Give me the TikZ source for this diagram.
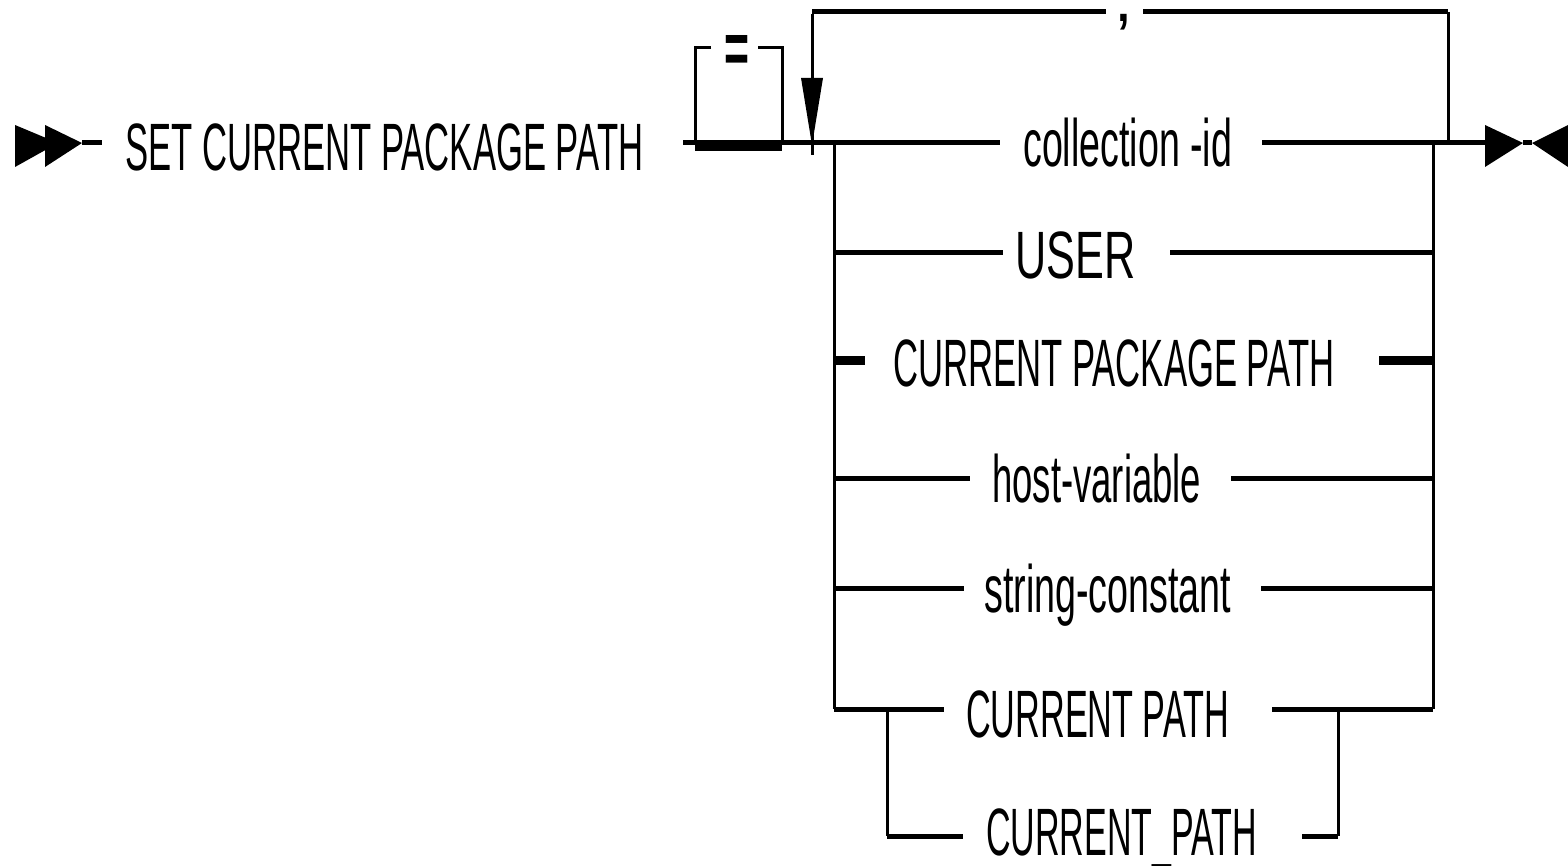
\documentclass[tikz,border=0pt]{standalone}
\usepackage{fontspec}
\setmainfont{Liberation Sans}
\usepackage{graphicx}
\newcommand{\fitw}[2]{\resizebox{#1pt}{\height}{#2}}
\begin{document}
\begin{tikzpicture}[x=1pt,y=-1pt,
  hline/.style={line width=5pt},
  vline/.style={line width=3pt},
  boldline/.style={line width=9pt},
  lbl/.style={inner sep=0pt, anchor=base west, font=\fontsize{67}{70}\selectfont},
  tipfill/.style={fill=black}]
\useasboundingbox[fill=white] (0,0) rectangle (1568,866);

% labels
\node[lbl] (title) at (125,171) {\fitw{518}{SET CURRENT PACKAGE PATH}};
\node[lbl] (cid) at (1023,167) {\fitw{209}{collection -id}};
\node[lbl] (user) at (1015,279) {\fitw{120}{USER}};
\node[lbl] (cpp) at (893,386) {\fitw{441}{CURRENT PACKAGE PATH}};
\node[lbl] (hv) at (992,502) {\fitw{209}{host-variable}};
\node[lbl] (sc) at (984,612) {\fitw{247}{string-constant}};
\node[lbl] (cp) at (966,737) {\fitw{263}{CURRENT PATH}};
\node[lbl] (cpu) at (986,855) {\fitw{271}{CURRENT\_PATH}};
\node[inner sep=0pt, anchor=base, font=\fontsize{67}{70}\selectfont] (comma) at (1124,22) {\smash{,}};
\node[inner sep=0pt, anchor=base] (eq) at (737,74) {\resizebox{25pt}{38pt}{\bfseries\fontsize{67}{70}\selectfont =}};

% coordinates
\coordinate (s0) at (82,143);
\coordinate (s1) at (102,143);
\coordinate (m0) at (683,143);
\coordinate (m1) at (1000,143);
\coordinate (r0) at (1262,143);
\coordinate (e0) at (1485,143);
\coordinate (lt) at (834,143);
\coordinate (rt) at (1433,143);
\coordinate (lb) at (834,709);
\coordinate (rb) at (1433,709);
\coordinate (ilb) at (887,836);
\coordinate (irb) at (1338,836);
\coordinate (ilt) at (887,709);
\coordinate (irt) at (1338,709);
\coordinate (lpA) at (812,155);
\coordinate (lpB) at (812,12);
\coordinate (lpC) at (1448,12);
\coordinate (lpD) at (1448,143);
\coordinate (cmL) at (1106,12);
\coordinate (cmR) at (1143,12);

% start arrows
\fill[tipfill] (15,125) -- (58,143) -- (15,167) -- cycle;
\fill[tipfill] (45,125) -- (82,143) -- (45,167) -- cycle;
\draw[hline] (s0) -- (s1);

% main line
\draw[hline] (m0) -- (m1);
\draw[hline] (r0) -- (e0);

% end arrows
\fill[tipfill] (1485,125) -- (1523,143) -- (1485,167) -- cycle;
\draw[hline] (1523,143) -- (1532,143);
\fill[tipfill] (1568,125) -- (1532,143) -- (1568,167) -- cycle;

% optional = bracket
\draw[vline] (711,48) -- (695,48) -- (695,143);
\draw[vline] (758,48) -- (782,48) -- (782,143);
\draw[line width=8pt] (695,147) -- (782,147);

% repeat loop
\draw[vline] (lpA) -- (812,14);
\draw[hline] (lpB) -- (cmL);
\draw[hline] (cmR) -- (lpC);
\draw[vline] (1448,12) -- (lpD);
\fill[tipfill] (801,78) -- (823,78) -- (812,145) -- cycle;

% rails
\draw[vline] (lt) -- (lb);
\draw[vline] (rt) -- (rb);
\draw[vline] (ilt) -- (ilb);
\draw[vline] (irt) -- (irb);

% rows
\draw[hline] (834,253) -- (1003,253);
\draw[hline] (1170,253) -- (1433,253);
\draw[boldline] (834,360) -- (865,360);
\draw[boldline] (1379,360) -- (1433,360);
\draw[hline] (834,478) -- (970,478);
\draw[hline] (1231,478) -- (1433,478);
\draw[hline] (834,588) -- (964,588);
\draw[hline] (1261,588) -- (1433,588);
\draw[hline] (lb) -- (944,709);
\draw[hline] (1272,709) -- (rb);
\draw[hline] (ilb) -- (963,836);
\draw[hline] (1302,836) -- (irb);
\end{tikzpicture}
\end{document}
